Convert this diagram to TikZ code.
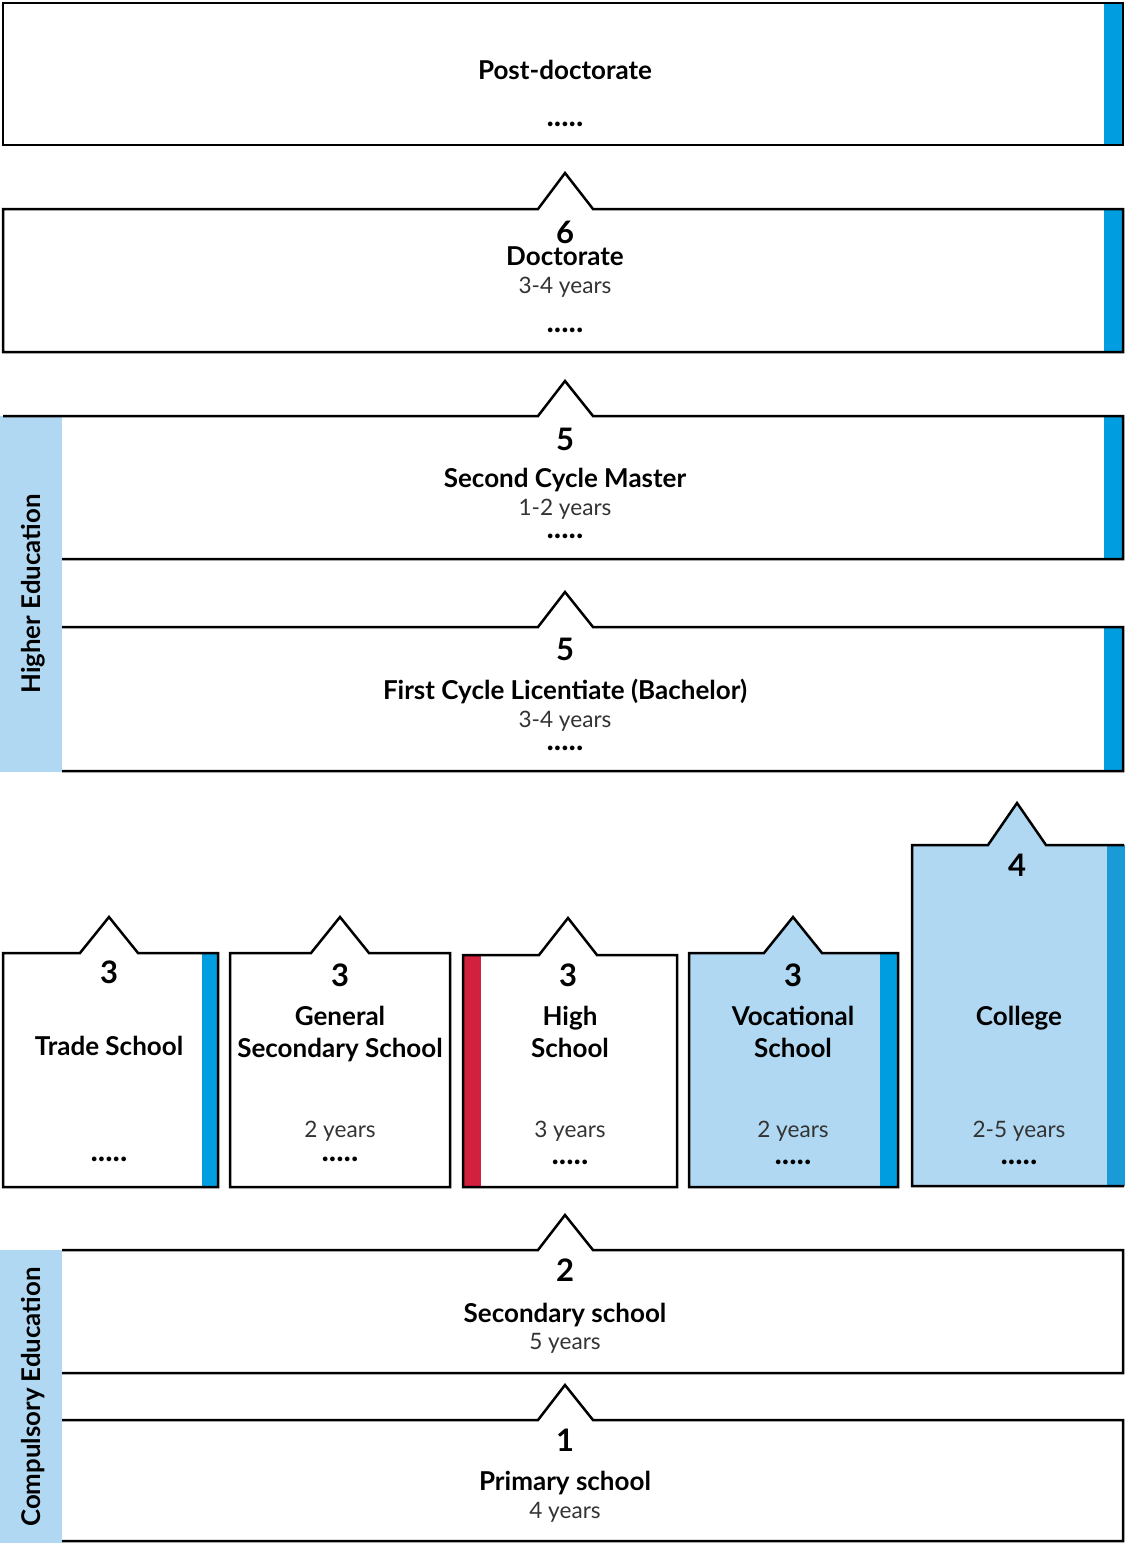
\documentclass[tikz,border=0pt]{standalone}
\usepackage{fontspec}
\setmainfont{Lato}
\definecolor{barblue}{HTML}{009EE0}
\definecolor{collegebar}{HTML}{1A9AD6}
\definecolor{paleblue}{HTML}{B0D8F2}
\definecolor{redbar}{HTML}{D2213F}
\begin{document}
\begin{tikzpicture}[
  x=0.5pt, y=-0.5pt,
  outline/.style={draw=black, line width=1.25pt, line join=miter},
  lvl/.style={anchor=base, inner sep=0pt, font=\bfseries\fontsize{15.5}{18}\selectfont},
  title/.style={anchor=base, inner sep=0pt, font=\bfseries\fontsize{13}{15}\selectfont},
  yrs/.style={anchor=base, inner sep=0pt, text=black!80, font=\fontsize{11.3}{13}\selectfont},
  dots/.style={anchor=base, inner sep=0pt, font=\bfseries\fontsize{15.5}{17}\selectfont},
  bandtext/.style={rotate=90, inner sep=0pt, font=\bfseries\fontsize{12.9}{15}\selectfont}
]
\useasboundingbox (0,0) rectangle (1125,1543);

% side bands
\fill[paleblue] (0,416) rectangle (62,772);
\fill[paleblue] (0,1250) rectangle (62,1543);
\node[bandtext] (higher) at (33,594) {Higher Education};
\node[bandtext] (compulsory) at (33,1397) {Compulsory Education};

% post-doctorate
\fill[barblue] (1104,3) rectangle (1123,145);
\draw[outline] (3,3) rectangle (1123,145);
\node[title] (postdoc) at (565,79) {Post-doctorate};
\node[dots] (postdoc-dots) at (565,126) {.....};

% doctorate
\fill[barblue] (1104,209) rectangle (1123,352);
\draw[outline] (3,209) -- (538,209) -- (565,173) -- (593,209) -- (1123,209) -- (1123,352) -- (3,352) -- cycle;
\node[lvl] (doc-lvl) at (565,243) {6};
\node[title] (doc) at (565,265) {Doctorate};
\node[yrs] (doc-yrs) at (565,293) {3-4 years};
\node[dots] (doc-dots) at (565,332) {.....};

% second cycle
\fill[barblue] (1104,416) rectangle (1123,559);
\draw[outline] (3,416) -- (538,416) -- (565,381) -- (593,416) -- (1123,416) -- (1123,559) -- (62,559);
\node[lvl] (master-lvl) at (565,450) {5};
\node[title] (master) at (565,487) {Second Cycle Master};
\node[yrs] (master-yrs) at (565,515) {1-2 years};
\node[dots] (master-dots) at (565,538) {.....};

% first cycle
\fill[barblue] (1104,627) rectangle (1123,771);
\draw[outline] (62,627) -- (538,627) -- (565,592) -- (593,627) -- (1123,627) -- (1123,771) -- (62,771);
\node[lvl] (bachelor-lvl) at (565,660) {5};
\node[title] (bachelor) at (565,699) {First Cycle Licentiate (Bachelor)};
\node[yrs] (bachelor-yrs) at (565,727) {3-4 years};
\node[dots] (bachelor-dots) at (565,750) {.....};

% trade school
\fill[barblue] (202,953) rectangle (218,1187);
\draw[outline] (3,953) -- (80,953) -- (109,917) -- (138,953) -- (218,953) -- (218,1187) -- (3,1187) -- cycle;
\node[lvl] (trade-lvl) at (109,983) {3};
\node[title] (trade) at (109,1055) {Trade School};
\node[dots] (trade-dots) at (109,1161) {.....};

% general secondary
\draw[outline] (230,953) -- (311,953) -- (340,917) -- (369,953) -- (450,953) -- (450,1187) -- (230,1187) -- cycle;
\node[lvl] (general-lvl) at (340,986) {3};
\node[title] (general-a) at (340,1025) {General};
\node[title] (general-b) at (340,1057) {Secondary School};
\node[yrs] (general-yrs) at (340,1137) {2 years};
\node[dots] (general-dots) at (340,1161) {.....};

% high school
\fill[redbar] (463,955) rectangle (481,1187);
\draw[outline] (463,955) -- (539,955) -- (568,918) -- (597,955) -- (677,955) -- (677,1187) -- (463,1187) -- cycle;
\node[lvl] (high-lvl) at (568,986) {3};
\node[title] (high-a) at (570,1025) {High};
\node[title] (high-b) at (570,1057) {School};
\node[yrs] (high-yrs) at (570,1137) {3 years};
\node[dots] (high-dots) at (570,1164) {.....};

% vocational school
\fill[paleblue] (689,953) -- (764,953) -- (793,917) -- (822,953) -- (898,953) -- (898,1187) -- (689,1187) -- cycle;
\fill[barblue] (880,953) rectangle (898,1187);
\draw[outline] (689,953) -- (764,953) -- (793,917) -- (822,953) -- (898,953) -- (898,1187) -- (689,1187) -- cycle;
\node[lvl] (voc-lvl) at (793,986) {3};
\node[title] (voc-a) at (793,1025) {Vocational};
\node[title] (voc-b) at (793,1057) {School};
\node[yrs] (voc-yrs) at (793,1137) {2 years};
\node[dots] (voc-dots) at (793,1164) {.....};

% college
\fill[paleblue] (912,845) -- (988,845) -- (1017,803) -- (1046,845) -- (1124,845) -- (1124,1186) -- (912,1186) -- cycle;
\fill[collegebar] (1107,845) rectangle (1125,1186);
\draw[outline] (1124,1186) -- (912,1186) -- (912,845) -- (988,845) -- (1017,803) -- (1046,845) -- (1124,845);
\node[lvl] (college-lvl) at (1017,876) {4};
\node[title] (college) at (1019,1025) {College};
\node[yrs] (college-yrs) at (1019,1137) {2-5 years};
\node[dots] (college-dots) at (1019,1164) {.....};

% secondary school
\draw[outline] (62,1250) -- (538,1250) -- (565,1215) -- (593,1250) -- (1123,1250) -- (1123,1373) -- (62,1373);
\node[lvl] (second-lvl) at (565,1281) {2};
\node[title] (second) at (565,1322) {Secondary school};
\node[yrs] (second-yrs) at (565,1349) {5 years};

% primary school
\draw[outline] (62,1420) -- (538,1420) -- (565,1385) -- (593,1420) -- (1123,1420) -- (1123,1541) -- (62,1541);
\node[lvl] (primary-lvl) at (565,1451) {1};
\node[title] (primary) at (565,1490) {Primary school};
\node[yrs] (primary-yrs) at (565,1518) {4 years};
\end{tikzpicture}
\end{document}
